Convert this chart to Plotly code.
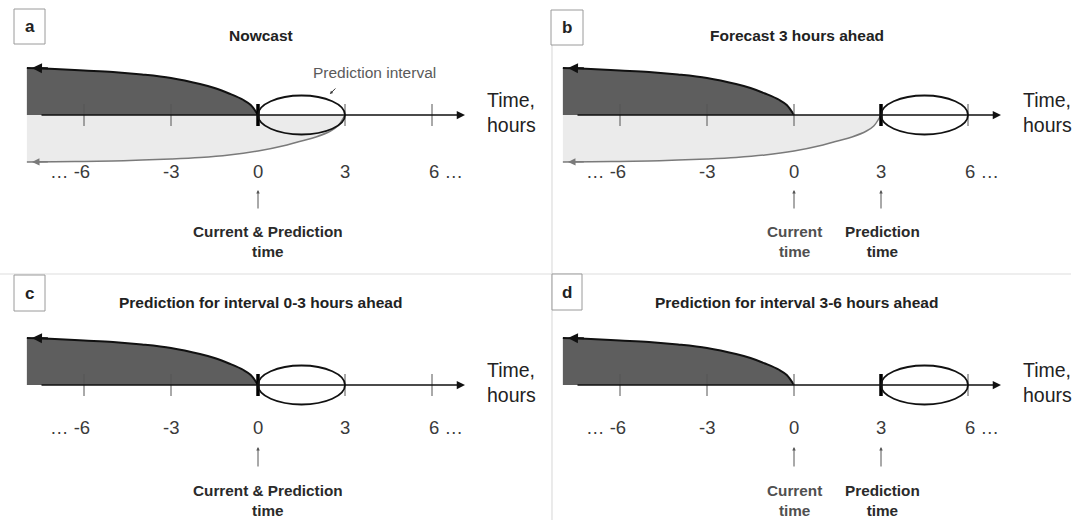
import plotly.graph_objects as go

# ---------------- data ----------------
tick_hours = [-6, -3, 0, 3, 6]
tick_labels = ["… -6", "-3", "0", "3", "6 …"]

# upper (dark) curve: observed history, hours vs. height
past_t = [-7.97, -7, -6, -5, -4, -3, -2, -1.5, -1, -0.5, -0.25, 0]
past_h = [47, 46, 44.5, 43, 40.5, 37, 31, 27, 21.5, 15, 10, 0]

# lower (light) curve: history used for the prediction
future_t = [-7.97, -7, -6, -5, -4, -3, -2, -1, 0, 1, 1.5, 2, 2.5, 2.75, 3]
future_h = [-47, -46.8, -46.5, -46, -45, -44, -42.5, -40, -36, -30, -26, -22, -16, -11, 0]

panel_letters = ["a", "b", "c", "d"]
panel_titles = ["Nowcast", "Forecast 3 hours ahead",
                "Prediction for interval 0-3 hours ahead",
                "Prediction for interval 3-6 hours ahead"]
current_time = [0, 0, 0, 0]
prediction_time = [0, 3, 0, 3]
interval_start = [0, 3, 0, 3]
interval_end = [3, 6, 3, 6]
has_light = [True, True, False, False]

# ---------------- layout geometry (pixels) ----------------
W, H = 1084, 520
PW, PH = 542, 260
S = 29.0  # px per hour
geo = [
    dict(left=0, top=0, origin=258, axis=115, title=35, lab=-56, ahead=-75, atail=-95, txt=-126, box=(14, 9, 45, 44)),
    dict(left=542, top=0, origin=794, axis=115, title=35, lab=-56, ahead=-75, atail=-95, txt=-126, box=(551, 10, 583, 45)),
    dict(left=0, top=260, origin=258, axis=385, title=302, lab=-42, ahead=-62, atail=-83, txt=-115, box=(14, 275, 45, 311)),
    dict(left=542, top=260, origin=794, axis=385, title=302, lab=-42, ahead=-62, atail=-83, txt=-115, box=(552, 274, 582, 310)),
]

FONT = "Liberation Sans"
fig = go.Figure()
annotations = []
shapes = []
layout_axes = {}

for i, g in enumerate(geo):
    xr = "x" if i == 0 else f"x{i+1}"
    yr = "y" if i == 0 else f"y{i+1}"
    xkey = "xaxis" if i == 0 else f"xaxis{i+1}"
    ykey = "yaxis" if i == 0 else f"yaxis{i+1}"
    layout_axes[xkey] = dict(domain=[g["left"] / W, (g["left"] + PW) / W],
                             range=[(g["left"] - g["origin"]) / S, (g["left"] + PW - g["origin"]) / S],
                             visible=False, fixedrange=True, anchor=yr)
    layout_axes[ykey] = dict(domain=[1 - (g["top"] + PH) / H, 1 - g["top"] / H],
                             range=[g["axis"] - (g["top"] + PH), g["axis"] - g["top"]],
                             visible=False, fixedrange=True, anchor=xr)

    axis_start = (40 - 258) / S
    axis_end = (465 - 258) / S
    head_t = (32 - 258) / S

    if has_light[i]:
        fig.add_trace(go.Scatter(x=future_t, y=future_h, xaxis=xr, yaxis=yr, mode="lines",
                                 line=dict(color="#7a7a7a", width=1.5, shape="spline"),
                                 fill="tozeroy", fillcolor="#ebebeb", hoverinfo="skip"))
        annotations.append(dict(x=head_t, y=future_h[0], ax=head_t + 0.6, ay=future_h[1] * 0.998,
                                xref=xr, yref=yr, axref=xr, ayref=yr, text="", showarrow=True,
                                arrowhead=2, arrowsize=1, arrowwidth=1.5, arrowcolor="#7a7a7a"))
    fig.add_trace(go.Scatter(x=past_t, y=past_h, xaxis=xr, yaxis=yr, mode="lines",
                             line=dict(color="#111111", width=2, shape="spline"),
                             fill="tozeroy", fillcolor="#5e5e5e", hoverinfo="skip"))
    annotations.append(dict(x=head_t, y=past_h[0], ax=head_t + 0.6, ay=past_h[0] - 0.4,
                            xref=xr, yref=yr, axref=xr, ayref=yr, text="", showarrow=True,
                            arrowhead=2, arrowsize=1, arrowwidth=2, arrowcolor="#111111"))

    # ticks
    tx, ty = [], []
    for t in tick_hours:
        tx += [t, t, None]
        ty += [-11, 11, None]
    fig.add_trace(go.Scatter(x=tx, y=ty, xaxis=xr, yaxis=yr, mode="lines",
                             line=dict(color="#555555", width=1), hoverinfo="skip"))
    fig.add_trace(go.Scatter(x=[prediction_time[i]] * 2, y=[-11, 11], xaxis=xr, yaxis=yr, mode="lines",
                             line=dict(color="#000000", width=3.5), hoverinfo="skip"))

    # time axis with arrow
    annotations.append(dict(x=axis_end, y=0, ax=axis_start, ay=0, xref=xr, yref=yr, axref=xr, ayref=yr,
                            text="", showarrow=True, arrowhead=2, arrowsize=1.1, arrowwidth=1.5,
                            arrowcolor="#111111"))

    # prediction interval ellipse
    shapes.append(dict(type="circle", xref=xr, yref=yr, x0=interval_start[i], x1=interval_end[i],
                       y0=-19.5, y1=19.5, line=dict(color="#111111", width=1.8), fillcolor="rgba(0,0,0,0)"))

    # tick labels
    for t, lab in zip(tick_hours, tick_labels):
        if lab.startswith("…"):
            a = dict(xanchor="right", xshift=8)
        elif lab.endswith("…"):
            a = dict(xanchor="left", xshift=-5)
        else:
            a = dict(xanchor="center")
        annotations.append(dict(x=t, y=g["lab"], xref=xr, yref=yr, text=lab, showarrow=False,
                                font=dict(family=FONT, size=18.5, color="#3a3a3a"), yanchor="middle", **a))

    # Time, hours
    annotations.append(dict(x=(485 - 258) / S, y=3, xref=xr, yref=yr, text="Time,<br>hours",
                            showarrow=False, xanchor="left", yanchor="middle", align="left",
                            font=dict(family=FONT, size=19.5, color="#222222")))

    # title
    annotations.append(dict(x=0.1, y=g["axis"] - g["title"], xref=xr, yref=yr,
                            text=f"<b>{panel_titles[i]}</b>", showarrow=False,
                            xanchor="center", yanchor="middle",
                            font=dict(family=FONT, size=15.5, color="#222222")))

    # letter box
    x0, y0, x1, y1 = g["box"]
    shapes.append(dict(type="rect", xref="paper", yref="paper", x0=x0 / W, x1=x1 / W,
                       y0=1 - y1 / H, y1=1 - y0 / H, line=dict(color="#9a9a9a", width=1),
                       fillcolor="white"))
    annotations.append(dict(x=(x0 + x1) / 2 / W, y=1 - (y0 + y1) / 2 / H, xref="paper", yref="paper",
                            text=f"<b>{panel_letters[i]}</b>", showarrow=False, xanchor="center",
                            yanchor="middle", font=dict(family=FONT, size=17, color="#222222")))

    # pointer arrows and their labels
    if current_time[i] == prediction_time[i]:
        marks = [(current_time[i], "<b>Current & Prediction<br>time</b>", "#2a2a2a", 0.35)]
    else:
        marks = [(current_time[i], "<b>Current<br>time</b>", "#505050", 0.0),
                 (prediction_time[i], "<b>Prediction<br>time</b>", "#2a2a2a", 0.05)]
    for t, txt, col, dx in marks:
        annotations.append(dict(x=t, y=g["ahead"], ax=t, ay=g["atail"], xref=xr, yref=yr, axref=xr, ayref=yr,
                                text="", showarrow=True, arrowhead=2, arrowsize=0.7, arrowwidth=1,
                                arrowcolor="#555555"))
        annotations.append(dict(x=t + dx, y=g["txt"], xref=xr, yref=yr, text=txt, showarrow=False,
                                xanchor="center", yanchor="middle", align="center",
                                font=dict(family=FONT, size=15.3, color=col)))

    if i == 0:
        annotations.append(dict(x=4.0, y=43, xref=xr, yref=yr, text="Prediction interval", showarrow=False,
                                xanchor="center", yanchor="middle",
                                font=dict(family=FONT, size=15.5, color="#5a5a5a")))
        annotations.append(dict(x=2.48, y=21, ax=2.72, ay=28, xref=xr, yref=yr, axref=xr, ayref=yr,
                                text="", showarrow=True, arrowhead=2, arrowsize=0.6, arrowwidth=1,
                                arrowcolor="#333333"))

# panel separators
shapes.append(dict(type="line", xref="paper", yref="paper", x0=552 / W, x1=552 / W, y0=0, y1=1 - 10 / H,
                   line=dict(color="#dddddd", width=1.2), layer="below"))
shapes.append(dict(type="line", xref="paper", yref="paper", x0=0, x1=1071 / W, y0=1 - 274 / H, y1=1 - 274 / H,
                   line=dict(color="#dddddd", width=1.2), layer="below"))

fig.update_layout(width=W, height=H, margin=dict(l=0, r=0, t=0, b=0), showlegend=False,
                  paper_bgcolor="white", plot_bgcolor="rgba(0,0,0,0)",
                  annotations=annotations, shapes=shapes, **layout_axes)
fig.write_html("out.html", config={"displayModeBar": False, "staticPlot": True},
               post_script="document.body.style.margin='0';document.body.style.overflow='hidden';")
